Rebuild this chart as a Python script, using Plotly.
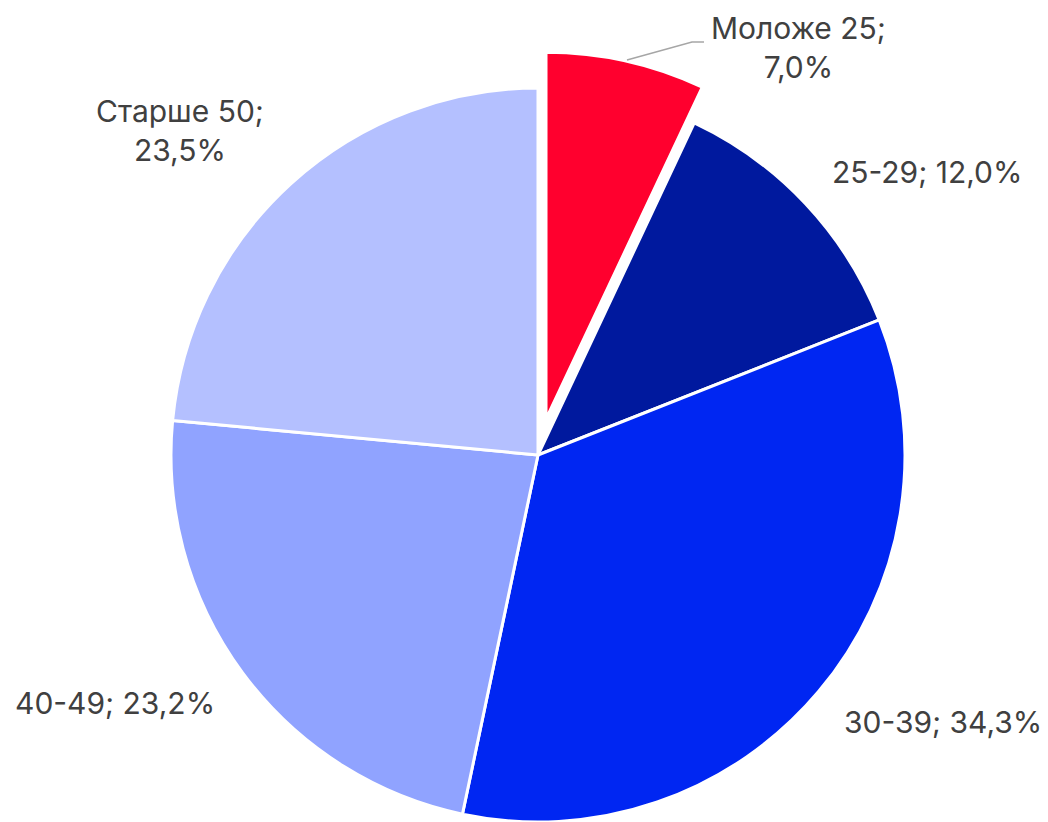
import math
import plotly.graph_objects as go

# ---- data ----
labels = ["Моложе 25", "25-29", "30-39", "40-49", "Старше 50"]
values = [7.0, 12.0, 34.3, 23.2, 23.5]
value_text = ["7,0%", "12,0%", "34,3%", "23,2%", "23,5%"]
colors = ["#FF002E", "#00199E", "#0026F2", "#90A3FF", "#B4C0FF"]

# ---- layout constants (pixels, in screen coordinates) ----
W, H = 1048, 822
OFF = 8  # page body margin offset
CX, CY, R = 538, 455, 367
PULL = 0.10  # fraction of radius for the first (exploded) slice
TEXT_COLOR = "#404040"
FONT = "Inter, Roboto, Arial, sans-serif"


def px_x(x):
    return (x - OFF) / W


def px_y(y):
    return 1 - (y - OFF) / H


def dom(cx, cy, r):
    return dict(x=[px_x(cx - r), px_x(cx + r)],
                y=[px_y(cy + r), px_y(cy - r)])


total = sum(values)
# bisector angle of the first slice (clockwise from 12 o'clock)
theta = math.radians(360 * values[0] / total / 2)
dx = PULL * R * math.sin(theta)
dy = PULL * R * math.cos(theta)

fig = go.Figure()

# main pie (first slice hidden; drawn exploded by the second trace)
main_colors = ["rgba(0,0,0,0)"] + colors[1:]
fig.add_trace(go.Pie(
    labels=labels, values=values, sort=False, direction="clockwise",
    rotation=0, textinfo="none", hoverinfo="label+percent",
    marker=dict(colors=main_colors,
                line=dict(color=["rgba(0,0,0,0)"] + ["white"] * 4, width=3)),
    domain=dom(CX, CY, R), showlegend=False,
))

# exploded first slice
fig.add_trace(go.Pie(
    labels=[labels[0], "rest"], values=[values[0], total - values[0]],
    sort=False, direction="clockwise", rotation=0, textinfo="none",
    hoverinfo="skip",
    marker=dict(colors=[colors[0], "rgba(0,0,0,0)"],
                line=dict(color=["white", "rgba(0,0,0,0)"], width=3)),
    domain=dom(CX + dx, CY - dy, R), showlegend=False,
))

# labels
label_pos = {  # pixel centres of each label block
    0: (798, 47, True),
    1: (927, 172, False),
    2: (943, 722, False),
    3: (115, 703, False),
    4: (180, 131, True),
}
annotations = []
for i, (px, py, two_lines) in label_pos.items():
    sep = ";<br>" if two_lines else "; "
    annotations.append(dict(
        text=f"{labels[i]}{sep}{value_text[i]}",
        x=px_x(px), y=px_y(py), xref="paper", yref="paper",
        xanchor="center", yanchor="middle", showarrow=False,
        font=dict(family=FONT, size=30, color=TEXT_COLOR),
    ))

# leader line for the exploded slice label
leader = [(627, 60), (692, 42), (704, 42)]
path = "M " + " L ".join(f"{px_x(x)},{px_y(y)}" for x, y in leader)
shapes = [dict(type="path", path=path, xref="paper", yref="paper",
               line=dict(color="#A6A6A6", width=1.5))]

fig.update_layout(
    width=W, height=H, margin=dict(l=0, r=0, t=0, b=0),
    paper_bgcolor="white", plot_bgcolor="white",
    annotations=annotations, shapes=shapes,
)

fig.write_html("out.html")
